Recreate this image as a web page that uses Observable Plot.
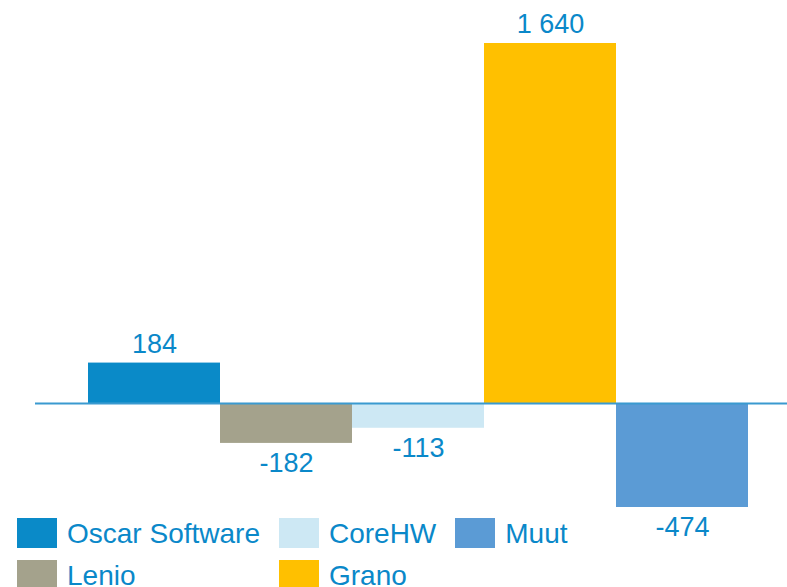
<!DOCTYPE html>
<html>
<head>
<meta charset="utf-8">
<script src="https://cdn.jsdelivr.net/npm/d3@7"></script>
<script src="https://cdn.jsdelivr.net/npm/@observablehq/plot@0.6"></script>
<style>
  html, body { margin: 0; padding: 0; background: #fff; }
  body { width: 787px; height: 587px; overflow: hidden; position: relative; font-family: "Liberation Sans", Arial, sans-serif; }
  #legend {
    position: absolute;
    left: 17px;
    top: 518px;
    display: grid;
    grid-template-columns: auto auto auto;
    justify-content: start;
    column-gap: 19px;
    row-gap: 12px;
  }
  .item { display: flex; align-items: center; gap: 10px; color: #0a88c9; font-size: 28px; line-height: 30px; white-space: nowrap; }
  .item span.lb { position: relative; top: 1px; }
  .sw { width: 40px; height: 30px; flex: none; }
</style>
</head>
<body>
<div id="chart"></div>
<div id="legend"></div>
<script>
const categories = ["Oscar Software", "Lenio", "CoreHW", "Grano", "Muut"];
const values = [184, -182, -113, 1640, -474];
const colors = ["#0a8ac8", "#a4a28c", "#cde8f4", "#ffc000", "#5b9bd5"];
const legendOrder = ["Oscar Software", "CoreHW", "Muut", "Lenio", "Grano"];

const data = categories.map((c, i) => ({ name: c, value: values[i] }));
const fmt = d3.formatLocale({ decimal: ",", thousands: " ", grouping: [3], currency: ["", ""], minus: "-" }).format(",");
const textColor = "#0a88c9";

const plot = Plot.plot({
  width: 787,
  height: 587,
  marginLeft: 35,
  marginRight: 0,
  marginTop: 0,
  marginBottom: 0,
  x: { domain: categories, range: [88, 748], padding: 0, axis: null },
  y: { domain: [-474, 1640], range: [507, 43], axis: null },
  color: { domain: categories, range: colors },
  style: { fontFamily: "Liberation Sans, Arial, sans-serif" },
  marks: [
    Plot.barY(data, { x: "name", y: "value", fill: "name", inset: 0 }),
    Plot.ruleY([0], { stroke: "#3a9ad0", strokeWidth: 2 }),
    Plot.text(data.filter(d => d.value >= 0), { x: "name", y: "value", text: d => fmt(d.value), dy: -19, fill: textColor, fontSize: 27 }),
    Plot.text(data.filter(d => d.value < 0), { x: "name", y: "value", text: d => fmt(d.value), dy: 20, fill: textColor, fontSize: 27 })
  ]
});
document.getElementById("chart").appendChild(plot);

const legend = document.getElementById("legend");
legendOrder.forEach(name => {
  const it = document.createElement("div");
  it.className = "item";
  const sw = document.createElement("span");
  sw.className = "sw";
  sw.style.background = colors[categories.indexOf(name)];
  const lb = document.createElement("span");
  lb.className = "lb";
  lb.textContent = name;
  it.appendChild(sw);
  it.appendChild(lb);
  legend.appendChild(it);
});
</script>
</body>
</html>
